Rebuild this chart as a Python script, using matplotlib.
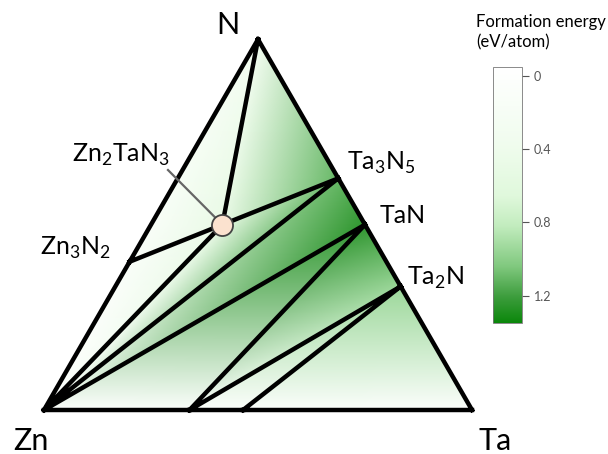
import numpy as np
import matplotlib.pyplot as plt
import matplotlib.tri as mtri
from matplotlib.colors import LinearSegmentedColormap, Normalize
from matplotlib.cm import ScalarMappable

plt.rcParams['font.family'] = ['Lato', 'DejaVu Sans']

# phases on the Zn-Ta-N hull (atomic fractions) and formation energy magnitude (eV/atom)
phases = ['N', 'Zn', 'Ta', 'Zn3N2', 'Zn2TaN3', 'Ta3N5', 'TaN', 'Ta2N', 'ZnTa_a', 'ZnTa_b']
frac_zn = [0, 1, 0, 0.6, 1 / 3, 0, 0, 0, 0.66, 0.535]
frac_ta = [0, 0, 1, 0, 1 / 6, 3 / 8, 0.5, 2 / 3, 0.34, 0.465]
frac_n = [1, 0, 0, 0.4, 0.5, 5 / 8, 0.5, 1 / 3, 0, 0]
energy = [0.3, 0, 0, 0.1, 0.5, 1.1, 1.25, 0.95, 0.05, 0.05]

# tie triangles (indices into phases)
facets = [(0, 3, 4), (0, 4, 5), (1, 3, 4), (1, 4, 5), (1, 5, 6),
          (1, 6, 8), (8, 6, 7), (8, 7, 9), (9, 7, 2)]

labels = {'N': 'N', 'Zn': 'Zn', 'Ta': 'Ta',
          'Zn3N2': r'Zn$_\mathregular{3}$N$_\mathregular{2}$',
          'Zn2TaN3': r'Zn$_\mathregular{2}$TaN$_\mathregular{3}$',
          'Ta3N5': r'Ta$_\mathregular{3}$N$_\mathregular{5}$',
          'TaN': 'TaN',
          'Ta2N': r'Ta$_\mathregular{2}$N'}

cbar_ticks = [0, 0.4, 0.8, 1.2]

fzn = np.array(frac_zn)
fta = np.array(frac_ta)
fn = np.array(frac_n)
xs = fta + 0.5 * fn
ys = np.sqrt(3) / 2 * fn

cmap = LinearSegmentedColormap.from_list('fe', [
    (0, '#ffffff'), (0.3, '#f0fcee'), (0.5, '#e0f8dc'), (0.62, '#c2ecbe'),
    (0.78, '#80c87e'), (0.9, '#3c9c3c'), (1, '#0b870b')])
norm = Normalize(vmin=-0.05, vmax=1.35)

fig = plt.figure(figsize=(6.08, 4.54), dpi=100)
ax = fig.add_axes([0, 0, 1, 1])
ax.set_xlim(-44 / 428, 564 / 428)
ax.set_ylim(-44 / 428, 410 / 428)
ax.axis('off')

tri = mtri.Triangulation(xs, ys, triangles=facets)
ax.tripcolor(tri, energy, shading='gouraud', cmap=cmap, norm=norm)
ax.triplot(tri, color='black', lw=3.2, solid_joinstyle='round')

# leader line + ternary compound marker
i = phases.index('Zn2TaN3')
ax.plot([0.2897, xs[i]], [0.5607, ys[i]], color='#666666', lw=1.6, zorder=4)
ax.scatter([xs[i]], [ys[i]], s=230, color='#fbe2cf', edgecolor='#444444',
           lw=1.3, zorder=5)

ax.text(0.430, 0.8995, labels['N'], fontsize=22, ha='center', va='center')
ax.text(-0.030, -0.0724, labels['Zn'], fontsize=22, ha='center', va='center')
ax.text(1.054, -0.0724, labels['Ta'], fontsize=22, ha='center', va='center')
ax.text(0.0654, 0.5794, labels['Zn2TaN3'], fontsize=18, va='baseline')
ax.text(-0.0094, 0.362, labels['Zn3N2'], fontsize=18, va='baseline')
ax.text(0.708, 0.5607, labels['Ta3N5'], fontsize=18, va='baseline')
ax.text(0.785, 0.437, labels['TaN'], fontsize=18, va='baseline')
ax.text(0.848, 0.292, labels['Ta2N'], fontsize=18, va='baseline')

cax = fig.add_axes([493 / 608, (454 - 323) / 454, 29 / 608, 256 / 454])
cb = fig.colorbar(ScalarMappable(norm=norm, cmap=cmap), cax=cax)
cax.invert_yaxis()
cb.set_ticks(cbar_ticks)
cb.set_ticklabels(['0', '0.4', '0.8', '1.2'])
cax.tick_params(length=5, width=0.8, colors='#555555', labelsize=9)
cb.outline.set_linewidth(0.6)
cb.outline.set_edgecolor('#777777')
fig.text(476 / 608, 1 - 14 / 454, 'Formation energy\n(eV/atom)', fontsize=12,
         ha='left', va='top', linespacing=1.3)

fig.savefig('out.png', dpi=100)
